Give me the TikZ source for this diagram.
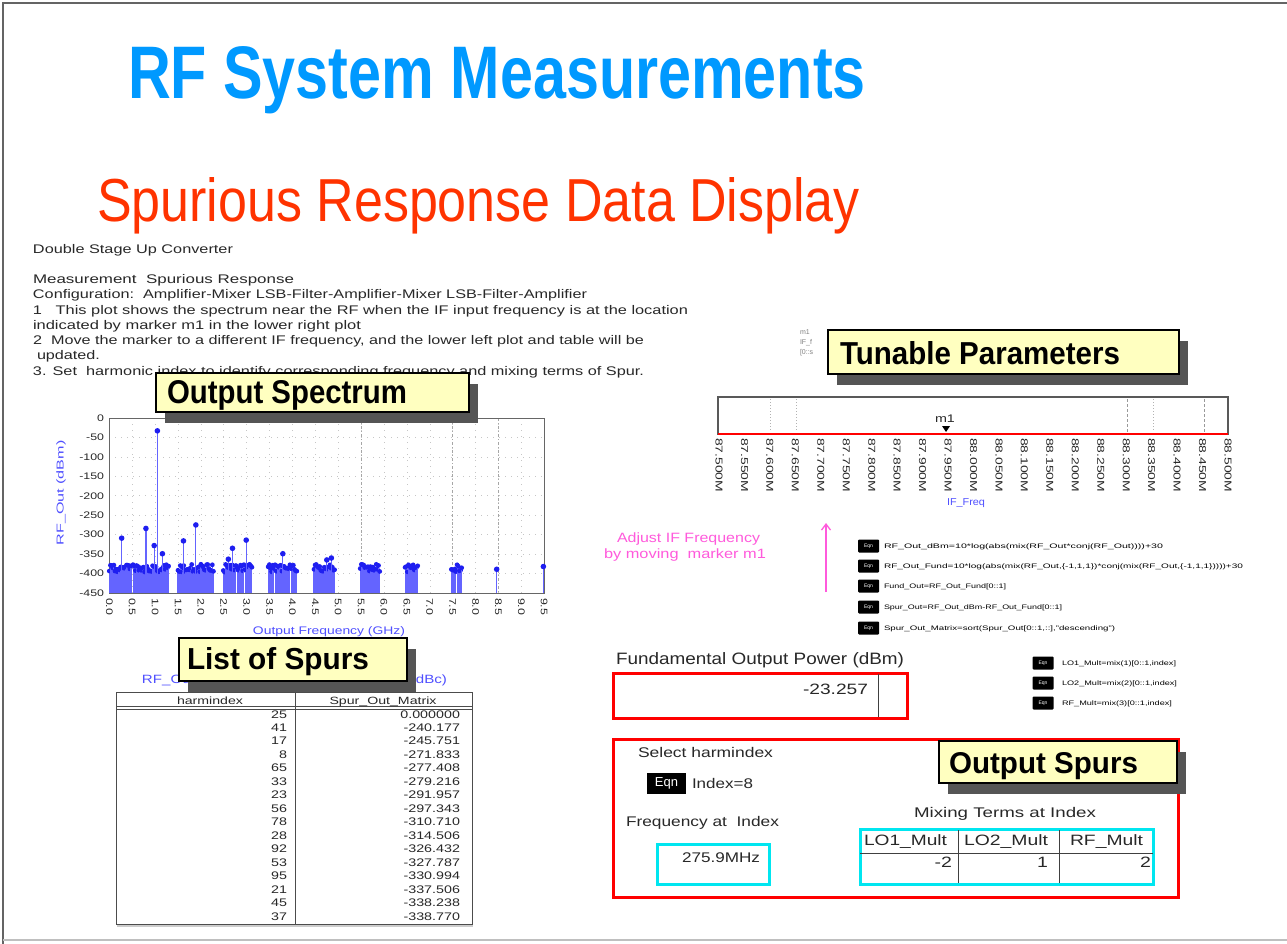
\documentclass[tikz,border=0pt]{standalone}
\usepackage{fontspec}
\setmainfont{Liberation Sans}
\usepackage{graphicx}
\usetikzlibrary{shadows,arrows.meta}
\definecolor{titleblue}{RGB}{0,153,255}
\definecolor{titlered}{RGB}{255,51,0}
\definecolor{textgray}{RGB}{40,40,40}
\definecolor{callfill}{RGB}{255,255,192}
\definecolor{shadowgray}{RGB}{85,85,85}
\definecolor{stemblue}{RGB}{100,100,255}
\definecolor{dotblue}{RGB}{30,30,240}
\definecolor{labelblue}{RGB}{80,80,255}
\definecolor{boxred}{RGB}{255,0,0}
\definecolor{boxcyan}{RGB}{0,230,240}
\definecolor{magentaC}{RGB}{255,90,220}
\definecolor{bordergray}{RGB}{100,100,100}
\newcommand\hw[2]{\resizebox{#1pt}{\height}{#2}}
\newcommand\fitbox[3]{\resizebox{#1pt}{#2pt}{#3}}
\newcommand\sx[1]{\scalebox{1.3}[1]{#1}}
\tikzset{
  txt/.style={anchor=base west,font=\fontsize{12.5}{14}\selectfont,text=textgray},
  tinytxt/.style={anchor=base west,font=\fontsize{6.5}{7}\selectfont,text=black},
  midtxt/.style={anchor=base west,font=\fontsize{14}{16}\selectfont,text=textgray},
  callout/.style={draw=black,line width=1.3pt,fill=callfill,
    drop shadow={shadow xshift=9pt,shadow yshift=-11pt,fill=shadowgray,opacity=1}},
  calltext/.style={anchor=base west,font=\fontsize{30}{32}\selectfont\bfseries,text=black},
  eqnbox/.style={fill=black,text=white,font=\fontsize{5}{5}\selectfont,minimum width=21pt,minimum height=13pt,rounded corners=1pt},
  gridc/.style={gray!45,line width=0.6pt,dash pattern=on 1pt off 5pt},
  stemline/.style={stemblue,line width=1.1pt},
  redbox/.style={draw=boxred,line width=3pt},
  cyanbox/.style={draw=boxcyan,line width=3pt},
}
\begin{document}
\begin{tikzpicture}[x=1pt,y=-1pt,every node/.style={inner sep=0pt,outer sep=0pt}]
\useasboundingbox (0,0) rectangle (1287,944);
\fill[white] (0,0) rectangle (1287,944);
% page border
\draw[bordergray,line width=1.6pt] (3,944) -- (3,3) -- (1287,3);
\draw[gray!50,line width=1.2pt] (3,940) -- (1287,940);

% titles
\node[anchor=base west,text=titleblue,font=\fontsize{60}{60}\selectfont\bfseries] (title1) at (128,99) {\fitbox{738}{52}{RF System Measurements}};
\node[anchor=base west,text=titlered,font=\fontsize{50}{50}\selectfont] (title2) at (97,222) {\fitbox{763}{44}{Spurious Response Data Display}};

% text block
\node[txt] (d1) at (33,253) {\hw{200}{Double Stage Up Converter}};
\node[txt] (d2) at (33,283) {\hw{261}{Measurement\ \ Spurious Response}};
\node[txt] (d3) at (33,298) {\hw{554}{Configuration:\ \ Amplifier-Mixer LSB-Filter-Amplifier-Mixer LSB-Filter-Amplifier}};
\node[txt] (d4) at (33,314) {\hw{655}{1\ \ \ This plot shows the spectrum near the RF when the IF input frequency is at the location}};
\node[txt] (d5) at (33,329) {\hw{328}{indicated by marker m1 in the lower right plot}};
\node[txt] (d6) at (33,344) {\hw{611}{2\ \ Move the marker to a different IF frequency, and the lower left plot and table will be}};
\node[txt] (d7) at (37,359) {\hw{63}{updated.}};
\node[txt] (d8) at (33,375) {\hw{611}{3. Set\ \ harmonic index to identify corresponding frequency and mixing terms of Spur.}};

% ---------------- spectrum plot ----------------
\begin{scope}[shift={(109.3,418)},x=45.79pt,y=0.3889pt]
  \foreach \f in {0.5,1,...,9} \draw[gridc] (\f,0) -- (\f,-450);
  \foreach \v in {-50,-100,...,-400} \draw[gridc] (0,\v) -- (9.5,\v);
  \foreach \f in {5.5,7.5,8.5} \draw[gray!70,line width=0.6pt,dash pattern=on 3pt off 2pt on 1pt off 2pt] (\f,0) -- (\f,-450);
  \draw[gray!80!black,line width=0.8pt] (0,0) rectangle (9.5,-450);
  \pgfmathsetseed{7}
  \foreach \a/\n in {0/19,0.52/31,1.5/31,2.49/25,3.47/25,4.47/18,5.48/17,6.46/11,7.47/9}{
    \foreach \i in {0,...,\n}{
      \pgfmathsetmacro\f{\a+0.025*\i}
      \pgfmathsetmacro\v{-376-20*rnd}
      \draw[stemline] (\f,-450) -- (\f,\v);
      \fill[dotblue] (\f,\v) circle[radius=2.4pt];
    }
  }
  \foreach \f/\v in {0.27/-309,0.80/-284,0.98/-328,1.05/-33,1.16/-349,1.62/-316,1.89/-275,2.6/-363,2.69/-335,2.99/-314,3.79/-349,4.75/-365,4.85/-360,8.46/-389,9.48/-382}{
    \draw[stemline,line width=1.2pt] (\f,-450) -- (\f,\v);
    \fill[dotblue] (\f,\v) circle[radius=2.8pt];
  }
\end{scope}
% y tick labels
\foreach \v [count=\i from 0] in {0,-50,-100,-150,-200,-250,-300,-350,-400,-450}
  \node[anchor=east,font=\fontsize{9.5}{10}\selectfont,text=textgray] (yl\i) at (104,{418+\i*19.44}) {\sx{\v}};
% x tick labels
\foreach \lab [count=\i from 0] in {0.0,0.5,1.0,1.5,2.0,2.5,3.0,3.5,4.0,4.5,5.0,5.5,6.0,6.5,7.0,7.5,8.0,8.5,9.0,9.5}
  \node[rotate=-90,anchor=west,font=\fontsize{9.5}{10}\selectfont,text=textgray] (xl\i) at ({109.3+\i*22.89},598) {\sx{\lab}};
\node[rotate=90,font=\fontsize{10}{11}\selectfont,text=labelblue] (ylab) at (61,493) {\hw{105}{RF\_Out (dBm)}};
\node[font=\fontsize{11}{12}\selectfont,text=labelblue] (xlab) at (329,632) {\hw{152}{Output Frequency (GHz)}};

% Output Spectrum callout
\node[callout,minimum width=313pt,minimum height=39pt] (cOS) at (312.5,392.5) {};
\node[calltext] (cOSt) at (167,403) {\fitbox{240}{23}{Output Spectrum}};

% ---------------- list of spurs table ----------------
\node[font=\fontsize{12}{13}\selectfont,text=labelblue] (ttitle) at (294.5,680) {\hw{305}{RF\_Out Spurs Relative to Fundamental (dBc)}};
\node[draw=gray!60!black,line width=1pt,minimum width=356pt,minimum height=232pt] (tbl) at (294,808) {};
\draw[gray!60!black,line width=1pt] (295,692) -- (295,924);
\draw[gray!60!black,line width=0.8pt] (116,706) -- (472,706);
\draw[gray!60!black,line width=0.8pt] (116,709) -- (472,709);
\draw[gray!40,line width=1.5pt] (117,926) -- (473,926);
\node[font=\fontsize{10.5}{11}\selectfont,text=textgray,anchor=base] (th1) at (210,704) {\hw{66}{harmindex}};
\node[font=\fontsize{10.5}{11}\selectfont,text=textgray,anchor=base] (th2) at (383,704) {\hw{107}{Spur\_Out\_Matrix}};
\foreach \h/\s [count=\i from 0] in {25/0.000000,41/-240.177,17/-245.751,8/-271.833,65/-277.408,33/-279.216,23/-291.957,56/-297.343,78/-310.710,28/-314.506,92/-326.432,53/-327.787,95/-330.994,21/-337.506,45/-338.238,37/-338.770}{
  \node[anchor=base east,font=\fontsize{11}{12}\selectfont,text=textgray] (ra\i) at (287,{718+\i*13.47}) {\sx{\h}};
  \node[anchor=base east,font=\fontsize{11}{12}\selectfont,text=textgray] (rb\i) at (460,{718+\i*13.47}) {\sx{\s}};
}
% List of Spurs callout
\node[callout,minimum width=228pt,minimum height=43pt] (cLS) at (293,659.5) {};
\node[calltext] (cLSt) at (187,669) {\fitbox{182}{22}{List of Spurs}};

% ---------------- tunable parameters ----------------
\node[anchor=base west,font=\fontsize{7}{7}\selectfont,text=gray] (m1a) at (800,334) {m1};
\node[anchor=base west,font=\fontsize{7}{7}\selectfont,text=gray] (m1b) at (800,344) {IF\_f};
\node[anchor=base west,font=\fontsize{7}{7}\selectfont,text=gray] (m1c) at (800,354) {[0::s};
\node[callout,minimum width=351pt,minimum height=44pt] (cTP) at (1003.5,352) {};
\node[calltext] (cTPt) at (840,364) {\fitbox{280}{23}{Tunable Parameters}};

\node[draw=gray!70!black,line width=1.2pt,minimum width=510pt,minimum height=37pt] (slider) at (973,415.5) {};
\foreach \xx in {770,796,1153} \draw[gray!60,line width=0.7pt,dash pattern=on 1pt off 2pt] (\xx,399) -- (\xx,432);
\foreach \xx in {1127,1204} \draw[gray!80,line width=0.7pt,dash pattern=on 3pt off 2pt] (\xx,399) -- (\xx,432);
\draw[red,line width=1.6pt] (718,434) -- (1228,434);
\node[font=\fontsize{11}{12}\selectfont,text=textgray] (m1lab) at (945,419) {\sx{m1}};
\fill[black] (942,426) -- (950,426) -- (946,432) -- cycle;
\foreach \lab [count=\i from 0] in {87.500M,87.550M,87.600M,87.650M,87.700M,87.750M,87.800M,87.850M,87.900M,87.950M,88.000M,88.050M,88.100M,88.150M,88.200M,88.250M,88.300M,88.350M,88.400M,88.450M,88.500M}
  \node[rotate=-90,anchor=west,font=\fontsize{10}{10}\selectfont,text=textgray] (sl\i) at ({719+\i*25.45},438) {\hw{54}{\lab}};
\node[font=\fontsize{10}{11}\selectfont,text=labelblue] (iflab) at (966,503) {\hw{38}{IF\_Freq}};

% adjust arrow
\coordinate (arrS) at (826,592);
\coordinate (arrE) at (826,523);
\draw[magentaC,line width=1.3pt,-{Straight Barb[length=6pt,width=9pt]}] (arrS) -- (arrE);
\node[anchor=base west,font=\fontsize{13.5}{14}\selectfont,text=magentaC] (adj1) at (617,542) {\hw{143}{Adjust IF Frequency}};
\node[anchor=base west,font=\fontsize{13.5}{14}\selectfont,text=magentaC] (adj2) at (604,558) {\hw{162}{by moving\ \ marker m1}};

% equations
\node[eqnbox] (e1) at (868.5,546) {Eqn};
\node[eqnbox] (e2) at (868.5,566) {Eqn};
\node[eqnbox] (e3) at (868.5,586) {Eqn};
\node[eqnbox] (e4) at (868.5,607) {Eqn};
\node[eqnbox] (e5) at (868.5,628) {Eqn};
\node[tinytxt] (et1) at (884,548.5) {\hw{279}{RF\_Out\_dBm=10*log(abs(mix(RF\_Out*conj(RF\_Out))))+30}};
\node[tinytxt] (et2) at (884,568.5) {\hw{359}{RF\_Out\_Fund=10*log(abs(mix(RF\_Out,\{-1,1,1\})*conj(mix(RF\_Out,\{-1,1,1\}))))+30}};
\node[tinytxt] (et3) at (884,588.5) {\hw{122}{Fund\_Out=RF\_Out\_Fund[0::1]}};
\node[tinytxt] (et4) at (884,609.5) {\hw{178}{Spur\_Out=RF\_Out\_dBm-RF\_Out\_Fund[0::1]}};
\node[tinytxt] (et5) at (884,630.5) {\hw{231}{Spur\_Out\_Matrix=sort(Spur\_Out[0::1,::],"descending")}};
\node[eqnbox] (e6) at (1043,663) {Eqn};
\node[eqnbox] (e7) at (1043,683) {Eqn};
\node[eqnbox] (e8) at (1043,703) {Eqn};
\node[tinytxt] (et6) at (1062,665.5) {\hw{114}{LO1\_Mult=mix(1)[0::1,index]}};
\node[tinytxt] (et7) at (1062,685.5) {\hw{115}{LO2\_Mult=mix(2)[0::1,index]}};
\node[tinytxt] (et8) at (1062,705.5) {\hw{110}{RF\_Mult=mix(3)[0::1,index]}};

% fundamental output power
\node[anchor=base west,font=\fontsize{16.5}{18}\selectfont,text=textgray] (fopt) at (616,664) {\hw{288}{Fundamental Output Power (dBm)}};
\node[redbox,minimum width=294pt,minimum height=45pt] (fopBox) at (760,695.5) {};
\draw[gray!50!black,line width=1pt] (878,674) -- (878,717);
\node[anchor=base east,font=\fontsize{15}{16}\selectfont,text=textgray] (fopv) at (868,694) {\hw{65}{-23.257}};

% output spurs
\node[redbox,minimum width=565pt,minimum height=158pt] (osBox) at (895.5,818) {};
\node[midtxt] (sel) at (638,757) {\hw{135}{Select harmindex}};
\node[fill=black,text=white,font=\fontsize{13}{13}\selectfont,minimum width=39pt,minimum height=21pt] (eqI) at (666.5,783.5) {Eqn};
\node[midtxt] (idx) at (692,788) {\hw{61}{Index=8}};
\node[midtxt] (fai) at (626,826) {\hw{153}{Frequency at\ \ Index}};
\node[cyanbox,minimum width=112pt,minimum height=40pt] (fBox) at (713,864) {};
\node[midtxt] (fval) at (682,862) {\hw{78}{275.9MHz}};
\node[midtxt] (mti) at (914,817) {\hw{182}{Mixing Terms at Index}};
\node[cyanbox,minimum width=293pt,minimum height=55pt] (mBox) at (1006.5,856.5) {};
\draw[gray!50!black,line width=1pt] (860,853) -- (1153,853);
\draw[gray!50!black,line width=1pt] (958,830) -- (958,883);
\draw[gray!50!black,line width=1pt] (1059,830) -- (1059,883);
\node[midtxt,font=\fontsize{15}{16}\selectfont] (h1) at (864,845) {\hw{83}{LO1\_Mult}};
\node[midtxt,font=\fontsize{15}{16}\selectfont] (h2) at (964,845) {\hw{84}{LO2\_Mult}};
\node[midtxt,font=\fontsize{15}{16}\selectfont] (h3) at (1070,845) {\hw{73}{RF\_Mult}};
\node[anchor=base east,font=\fontsize{15}{16}\selectfont,text=textgray] (v1) at (952,867) {\sx{-2}};
\node[anchor=base east,font=\fontsize{15}{16}\selectfont,text=textgray] (v2) at (1048,867) {\sx{1}};
\node[anchor=base east,font=\fontsize{15}{16}\selectfont,text=textgray] (v3) at (1151,867) {\sx{2}};
\node[callout,minimum width=238pt,minimum height=42pt] (cOSp) at (1058,762) {};
\node[calltext] (cOSpt) at (949,773) {\fitbox{189}{21}{Output Spurs}};
\end{tikzpicture}
\end{document}
